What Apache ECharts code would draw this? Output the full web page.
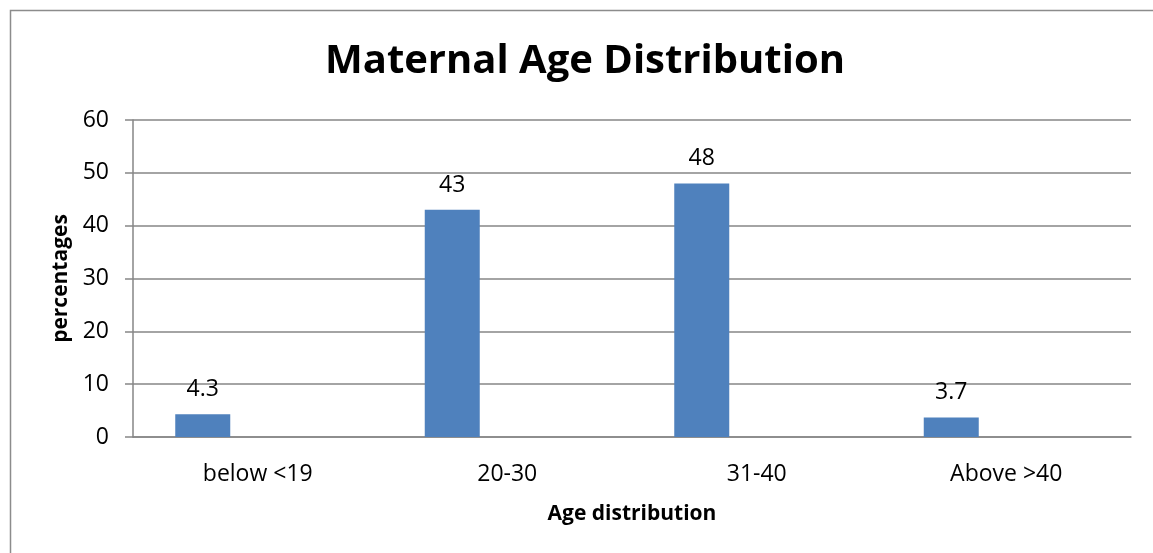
<!DOCTYPE html>
<html><head><meta charset="utf-8">
<script src="https://cdn.jsdelivr.net/npm/echarts@6/dist/echarts.min.js"></script>
<style>html,body{margin:0;padding:0;background:#fff}#c{width:1153px;height:553px}</style>
</head><body><div id="c"></div>
<script>
const categories = ['below <19', '20-30', '31-40', 'Above >40'];
const percentages = [4.3, 43, 48, 3.7];
const emptySeries = [null, null, null, null];
const yTicks = [0, 10, 20, 30, 40, 50, 60];

const font = '"Open Sans", "Noto Sans", sans-serif';
const chart = echarts.init(document.getElementById('c'));
chart.setOption({
  animation: false,
  backgroundColor: '#fff',
  graphic: [{
    type: 'rect', left: 8, top: 8, silent: true,
    shape: { width: 1170, height: 570 },
    style: { fill: 'none', stroke: '#8c8c8c', lineWidth: 1.5 }
  }],
  title: {
    text: 'Maternal Age Distribution', left: 320, top: 37,
    textStyle: { fontFamily: font, fontWeight: 'bold', fontSize: 40, color: '#000' }
  },
  grid: { left: 133, right: 22, top: 120, bottom: 116 },
  xAxis: {
    type: 'category', data: categories,
    name: 'Age distribution', nameLocation: 'middle', nameGap: 67,
    nameTextStyle: { fontFamily: font, fontWeight: 'bold', fontSize: 21, color: '#000' },
    axisLine: { lineStyle: { color: '#868686', width: 1.5 } },
    axisTick: { show: false },
    axisLabel: { fontFamily: font, fontSize: 23, color: '#000', margin: 26 }
  },
  yAxis: {
    type: 'value', min: yTicks[0], max: yTicks[yTicks.length - 1], interval: 10,
    name: 'percentages', nameLocation: 'middle', nameGap: 60,
    nameTextStyle: { fontFamily: font, fontWeight: 'bold', fontSize: 21, color: '#000' },
    axisLine: { show: true, lineStyle: { color: '#868686', width: 1.5 } },
    axisTick: { show: true, length: 8, lineStyle: { color: '#868686', width: 1.5 } },
    splitLine: { lineStyle: { color: '#868686', width: 1.5 } },
    axisLabel: { fontFamily: font, fontSize: 23, color: '#000', margin: 24 }
  },
  series: [{
    type: 'bar', data: percentages, barWidth: 55, barGap: '100%',
    itemStyle: { color: '#4f81bd' },
    label: { show: true, position: 'top', distance: 13, fontFamily: font, fontSize: 23, color: '#000' }
  }, {
    type: 'bar', data: emptySeries, barWidth: 55,
    itemStyle: { color: '#c0504d' }
  }]
});
</script></body></html>
